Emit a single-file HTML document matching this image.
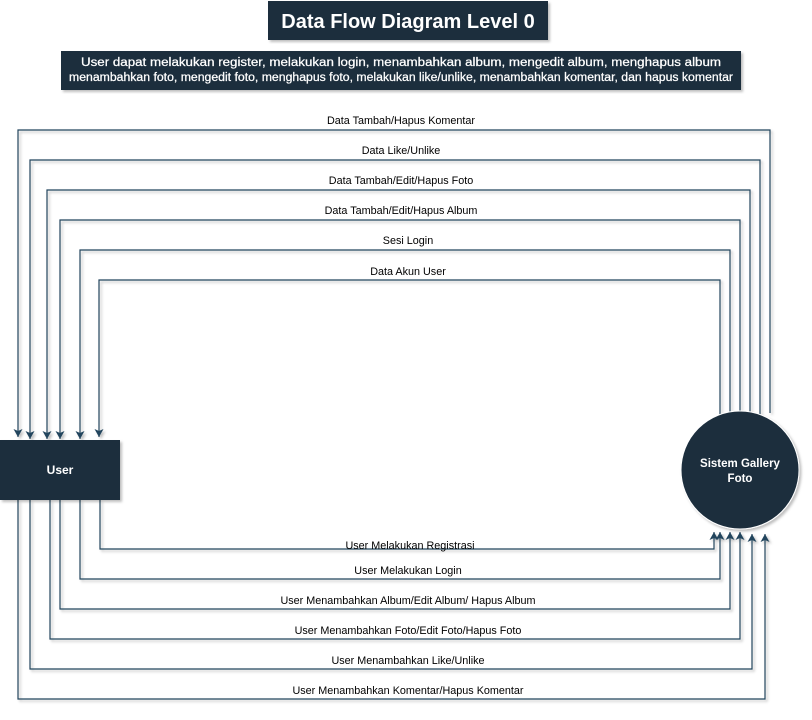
<!DOCTYPE html>
<html><head><meta charset="utf-8"><style>
body{margin:0;background:#fff;}
svg{display:block;font-family:"Liberation Sans",Arial,sans-serif;}
</style></head><body>
<svg width="812" height="720" viewBox="0 0 812 720" xmlns="http://www.w3.org/2000/svg">
<defs>
<marker id="a" markerWidth="10" markerHeight="10" refX="8" refY="4.5" orient="auto" markerUnits="userSpaceOnUse">
<path d="M0,0 L8,4.5 L0,9 L2,4.5 Z" fill="#23445d"/>
</marker>
<filter id="sh"><feDropShadow dx="2" dy="2" stdDeviation="1.2" flood-color="#000" flood-opacity="0.25"/></filter>
</defs>
<rect x="268" y="1" width="280" height="39" fill="#1a2d3d" filter="url(#sh)"/>
<text x="408" y="28" fill="#fff" font-size="20" font-weight="bold" text-anchor="middle">Data Flow Diagram Level 0</text>
<rect x="61" y="51" width="680" height="39" fill="#1a2d3d" filter="url(#sh)"/>
<text x="401" y="66" fill="#fff" font-size="11.5" text-anchor="middle" textLength="640" lengthAdjust="spacingAndGlyphs" stroke="#fff" stroke-width="0.25">User dapat melakukan register, melakukan login, menambahkan album, mengedit album, menghapus album</text>
<text x="401" y="81" fill="#fff" font-size="11.5" text-anchor="middle" textLength="664" lengthAdjust="spacingAndGlyphs" stroke="#fff" stroke-width="0.25">menambahkan foto, mengedit foto, menghapus foto, melakukan like/unlike, menambahkan komentar, dan hapus komentar</text>
<g fill="none" stroke="#23445d" stroke-width="1.2" filter="url(#sh)">
<path d="M770,413 V130 H18 V437" marker-end="url(#a)"/>
<path d="M760,418 V160 H30 V439" marker-end="url(#a)"/>
<path d="M750,415 V190 H47 V439" marker-end="url(#a)"/>
<path d="M740,411 V220 H60 V439" marker-end="url(#a)"/>
<path d="M730,414 V250 H80 V439" marker-end="url(#a)"/>
<path d="M720,420 V280 H99 V437" marker-end="url(#a)"/>
<path d="M100,500 V549 H714 V532" marker-end="url(#a)"/>
<path d="M80,500 V579 H720 V532" marker-end="url(#a)"/>
<path d="M60,500 V609 H730 V532" marker-end="url(#a)"/>
<path d="M50,500 V639 H740 V532" marker-end="url(#a)"/>
<path d="M30,500 V669 H752 V534" marker-end="url(#a)"/>
<path d="M18,500 V699 H765 V534" marker-end="url(#a)"/>
</g>
<g font-size="10.8" fill="#000" text-anchor="middle">
<text x="401" y="124">Data Tambah/Hapus Komentar</text>
<text x="401" y="154">Data Like/Unlike</text>
<text x="401" y="184">Data Tambah/Edit/Hapus Foto</text>
<text x="401" y="214">Data Tambah/Edit/Hapus Album</text>
<text x="408" y="244">Sesi Login</text>
<text x="408" y="275">Data Akun User</text>
<text x="410" y="549">User Melakukan Registrasi</text>
<text x="408" y="574">User Melakukan Login</text>
<text x="408" y="604">User Menambahkan Album/Edit Album/ Hapus Album</text>
<text x="408" y="634">User Menambahkan Foto/Edit Foto/Hapus Foto</text>
<text x="408" y="664">User Menambahkan Like/Unlike</text>
<text x="408" y="694">User Menambahkan Komentar/Hapus Komentar</text>
</g>
<rect x="0" y="440" width="120" height="60" fill="#1a2d3d" filter="url(#sh)"/>
<text x="60" y="474" fill="#fff" font-size="12" font-weight="bold" text-anchor="middle">User</text>
<circle cx="740" cy="470" r="59" fill="#1a2d3d" stroke="#fff" stroke-width="1" filter="url(#sh)"/>
<text x="740" y="467" fill="#fff" font-size="11.5" font-weight="bold" text-anchor="middle">Sistem Gallery</text>
<text x="740" y="482" fill="#fff" font-size="11.5" font-weight="bold" text-anchor="middle">Foto</text>
</svg>
</body></html>
